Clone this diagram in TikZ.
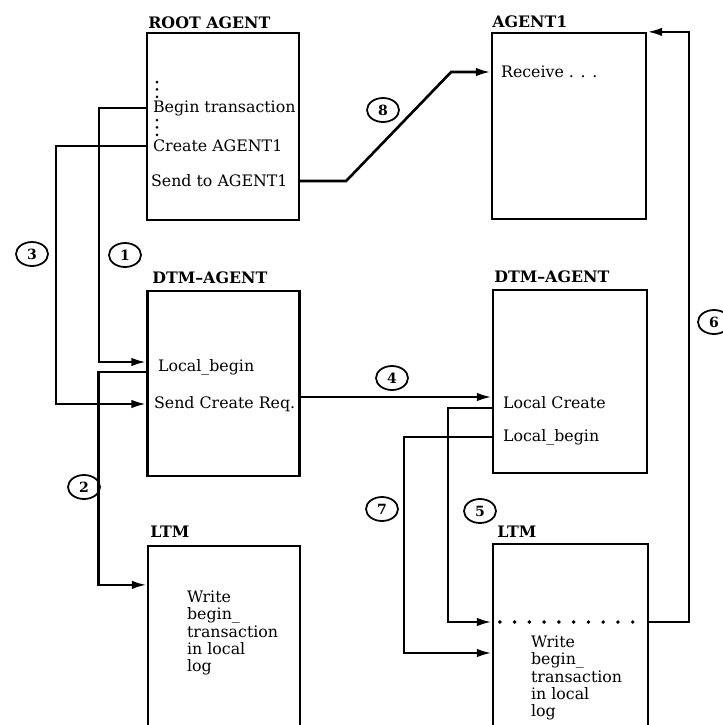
\documentclass[tikz,border=0pt]{standalone}
\usepackage{fontspec}
\setmainfont{DejaVu Serif}
\usetikzlibrary{arrows.meta,shapes.geometric,calc}
\newcommand\dtxt{\fontsize{9}{9.8}\selectfont}

\tikzset{blk/.style={draw,line width=1.3pt,minimum width=3.04cm,inner sep=0},
 lbl/.style={anchor=west,inner sep=1pt,font=\dtxt},
 ttl/.style={anchor=base west,inner sep=0,font=\dtxt\bfseries},
 num/.style={ellipse,draw,line width=1pt,minimum width=0.64cm,minimum height=0.48cm,inner sep=0,font=\fontsize{8}{8}\selectfont\bfseries},
 cn/.style={line width=1.5pt},
 dotrow/.style={line width=#1,line cap=round,dash pattern=on 0pt off 4.2pt},
 >={Latex[length=3mm,width=1.7mm]}}

\begin{document}
\begin{tikzpicture}[x=0.02cm,y=-0.02cm]
\useasboundingbox (0,0) rectangle (723,725);\clip (0,0) rectangle (723,725);
\node[blk,minimum height=3.74cm] (root) at (223,126.5) {};
\node[blk,minimum width=3.08cm,minimum height=3.72cm] (agent) at (569,126) {};
\node[blk,minimum height=3.7cm] (dtmL) at (223.5,383.5) {};
\node[blk,minimum width=3.08cm,minimum height=3.66cm] (dtmR) at (570,381.5) {};
\node[blk,minimum height=4.6cm] (ltmL) at (224,661) {};
\node[blk,minimum width=3.1cm,minimum height=4.6cm] (ltmR) at (570.5,659) {};
\node[ttl] (tRoot) at (148,28) {ROOT AGENT};\node[ttl] (tAgent) at (492,27) {AGENT1};
\node[ttl] (tDtmL) at (152,283) {DTM--AGENT};\node[ttl] (tDtmR) at (494,282) {DTM--AGENT};
\node[ttl] (tLtmL) at (150,537) {LTM};\node[ttl] (tLtmR) at (497,537) {LTM};
\node[lbl] (begintx) at (151,108) {Begin transaction};\node[lbl] (createA) at (151,146) {Create AGENT1};\node[lbl] (sendA) at (149,181) {Send to AGENT1};
\node[lbl] (receive) at (499,72) {Receive . . .};
\node[lbl] (lbeginL) at (156,367) {Local\_begin};\node[lbl] (sendreq) at (152,404) {Send Create Req.};
\node[lbl] (lcreate) at (501,403) {Local Create};\node[lbl] (lbeginR) at (501,437) {Local\_begin};
\node[lbl,anchor=north west,align=left] (logL) at (185,589) {Write\\begin\_\\transaction\\in local\\log};
\node[lbl,anchor=north west,align=left] (logR) at (529,634) {Write\\begin\_\\transaction\\in local\\log};
\coordinate (dots) at (570,622);
\foreach \a/\b in {82/98,120/136}{\draw[dotrow=1.7pt] (157,\a)--(157,\b);}
\draw[dotrow=2.2pt,dash pattern=on 0pt off 8.4pt] ($(ltmR.west |- dots)+(8,0)$) -- ($(ltmR.east |- dots)+(-4,0)$);
\draw[cn,->] (root.west |- begintx) -- ++(-47,0) |- ($(dtmL.west |- lbeginL)+(0,-5)$);
\draw[cn,->] (root.west |- createA) -- ++(-90,0) |- (dtmL.west |- sendreq);
\draw[cn,->] ($(dtmL.west |- lbeginL)+(0,5)$) -- ++(-48,0) |- ($(ltmL.north west)+(0,40)$);
\draw[cn,->] ($(dtmL.east |- sendreq)+(0,-7)$) -- ($(dtmR.west |- lcreate)+(0,-6)$);
\draw[cn,->] (root.east |- sendA) -- ++(46,0) -- ++(105,-109) -- (agent.west |- receive);
\draw[cn,->] (ltmR.east |- dots) -- ++(40,0) |- (agent.north east);
\draw[cn,->] ($(dtmR.west |- lcreate)+(0,5)$) -- ++(-44,0) |- (ltmR.west |- dots);
\draw[cn,->] (dtmR.west |- lbeginR) -- ++(-88,0) |- ($(ltmR.west |- dots)+(0,31)$);
\foreach \n/\px/\py in {1/125/255,2/84/487,3/32/254,4/392/378,5/480/511,6/714/322,7/382/509,8/383/110}{\node[num] (n\n) at (\px,\py) {\n};}
\end{tikzpicture}
\end{document}
